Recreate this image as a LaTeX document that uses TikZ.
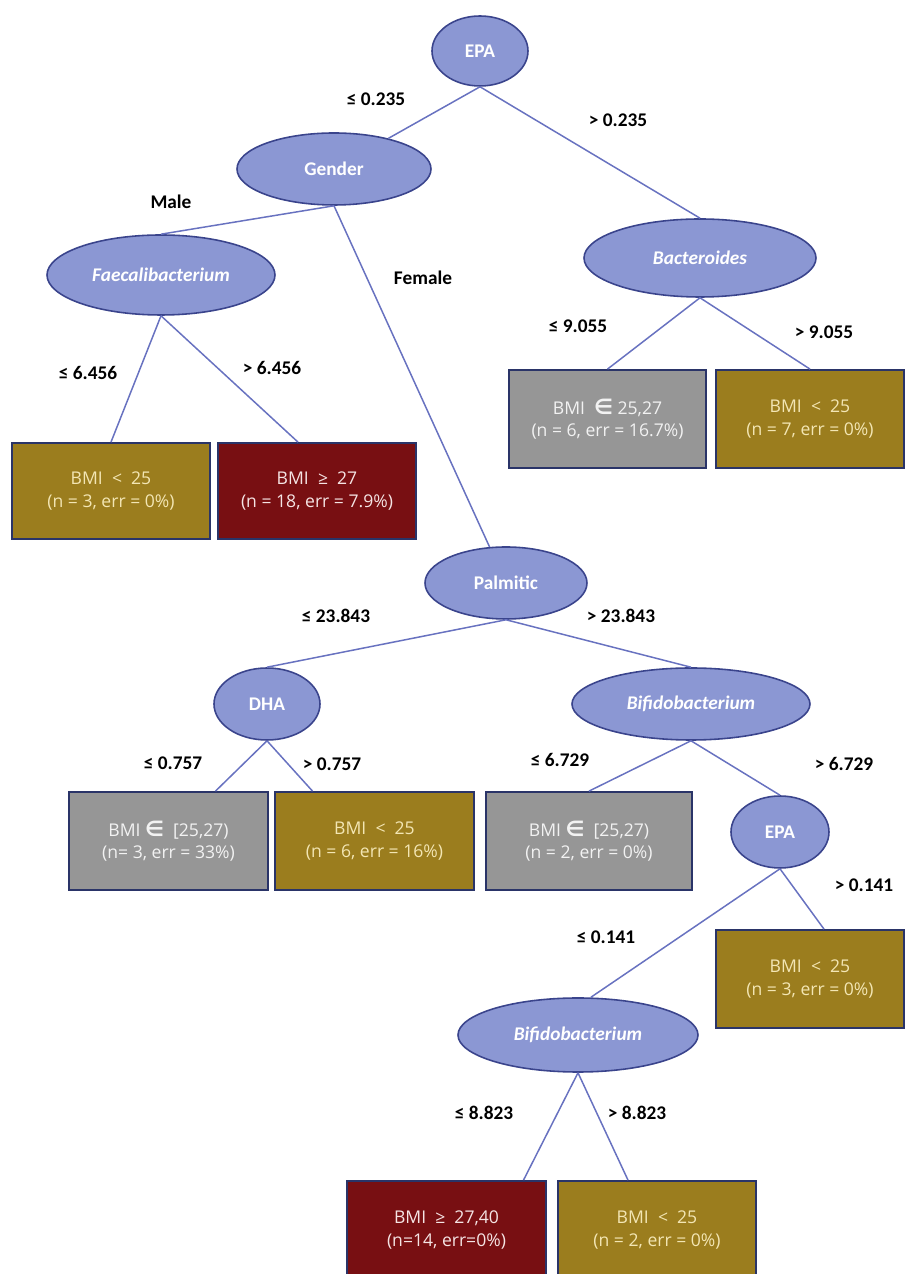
\documentclass[tikz,border=0pt]{standalone}
\usepackage{fontspec}
\setmainfont{Carlito}
\newfontfamily\boxfont{Open Sans}
\newfontfamily\symfont{DejaVu Sans}
\usepackage{tikz}
\usetikzlibrary{shapes.geometric}
\usepackage{xcolor}
\definecolor{ellfill}{RGB}{139,151,211}
\definecolor{elldraw}{RGB}{58,68,140}
\definecolor{edgeblue}{RGB}{104,114,192}
\definecolor{boxdraw}{RGB}{42,52,104}
\definecolor{olive}{RGB}{155,125,30}
\definecolor{darkred}{RGB}{120,15,18}
\definecolor{boxgrey}{RGB}{150,150,150}
\newcommand{\elem}{{\symfont\bfseries\large ∈}}

\begin{document}
\begin{tikzpicture}[
  split/.style={ellipse,draw=elldraw,fill=ellfill,line width=0.9pt,inner sep=0pt,
    text=white,font=\fontsize{11}{13}\selectfont\bfseries},
  leaf/.style={rectangle,draw=boxdraw,line width=1pt,inner sep=0pt,align=center,
    font=\boxfont\fontsize{10}{12.8}\selectfont},
  ok/.style={leaf,fill=olive,text={rgb,255:red,243;green,230;blue,180}},
  high/.style={leaf,fill=darkred,text={rgb,255:red,245;green,228;blue,228}},
  mid/.style={leaf,fill=boxgrey,text={rgb,255:red,242;green,242;blue,242}},
  br/.style={draw=edgeblue,line width=0.85pt},
  cond/.style={font=\fontsize{11}{13}\selectfont\bfseries}
]
\useasboundingbox (0,0) rectangle (18.12,25.48);

\node[split,minimum width=1.92cm,minimum height=1.40cm] (epa)    at (9.60,24.46) {EPA};
\node[split,minimum width=3.88cm,minimum height=1.44cm] (gender) at (6.68,22.10) {Gender};
\node[split,minimum width=4.56cm,minimum height=1.60cm] (faec)   at (3.22,19.98) {\itshape Faecalibacterium};
\node[split,minimum width=4.64cm,minimum height=1.56cm] (bact)   at (14.00,20.32) {\itshape Bacteroides};
\node[split,minimum width=3.24cm,minimum height=1.44cm] (palm)   at (10.12,13.82) {Palmitic};
\node[split,minimum width=2.12cm,minimum height=1.44cm] (dha)    at (5.34,11.40) {DHA};
\node[split,minimum width=4.76cm,minimum height=1.44cm] (bifa)   at (13.82,11.40) {\itshape Bifidobacterium};
\node[split,minimum width=1.96cm,minimum height=1.44cm] (epab)   at (15.60,8.84) {EPA};
\node[split,minimum width=4.80cm,minimum height=1.48cm] (bifb)   at (11.56,4.78) {\itshape Bifidobacterium};

\node[ok,minimum width=3.96cm,minimum height=1.92cm]   (lfa) at (2.22,15.66) {BMI~~<~~25\\(n = 3, err = 0\%)};
\node[high,minimum width=3.96cm,minimum height=1.92cm] (lfb) at (6.34,15.66) {BMI~~≥~~27\\(n = 18, err = 7.9\%)};
\node[mid,minimum width=3.94cm,minimum height=1.96cm]  (lfc) at (12.15,17.10) {BMI~~\elem{} 25,27\\(n = 6, err = 16.7\%)};
\node[ok,minimum width=3.76cm,minimum height=1.96cm]   (lfd) at (16.20,17.10) {BMI~~<~~25\\(n = 7, err = 0\%)};
\node[mid,minimum width=3.98cm,minimum height=1.96cm]  (lfe) at (3.37,8.66) {BMI \elem~~[25,27)\\(n= 3, err = 33\%)};
\node[ok,minimum width=3.98cm,minimum height=1.96cm]   (lff) at (7.49,8.66) {BMI~~<~~25\\(n = 6, err = 16\%)};
\node[mid,minimum width=4.12cm,minimum height=1.96cm]  (lfg) at (11.78,8.66) {BMI \elem~~[25,27)\\(n = 2, err = 0\%)};
\node[ok,minimum width=3.76cm,minimum height=1.96cm]   (lfh) at (16.20,5.90) {BMI~~<~~25\\(n = 3, err = 0\%)};
\node[high,minimum width=3.98cm,minimum height=1.96cm] (lfi) at (8.93,0.88) {BMI~~≥~~27,40\\(n=14, err=0\%)};
\node[ok,minimum width=3.96cm,minimum height=1.96cm]   (lfj) at (13.14,0.88) {BMI~~<~~25\\(n = 2, err = 0\%)};

\draw[br] (epa.south) -- (gender);
\draw[br] (epa.south) -- (bact.north);
\draw[br] (gender.south) -- (faec.north);
\draw[br] (gender.south) -- (palm);
\draw[br] (faec.south) -- (lfa.north);
\draw[br] (faec.south) -- ([xshift=-0.38cm]lfb.north);
\draw[br] (bact.south) -- (lfc.north);
\draw[br] (bact.south) -- (lfd.north);
\draw[br] (palm.south) -- (dha.north);
\draw[br] (palm.south) -- (bifa.north);
\draw[br] (dha.south) -- ([xshift=0.94cm]lfe.north);
\draw[br] (dha.south) -- ([xshift=-1.24cm]lff.north);
\draw[br] (bifa.south) -- (lfg.north);
\draw[br] (bifa.south) -- (epab.north);
\draw[br] (epab.south) -- ([xshift=0.26cm]bifb.north);
\draw[br] (epab.south) -- ([xshift=0.28cm]lfh.north);
\draw[br] (bifb.south) -- ([xshift=1.54cm]lfi.north);
\draw[br] (bifb.south) -- ([xshift=-0.58cm]lfj.north);

\node[cond] (c1a) at (7.52,23.50) {≤ 0.235};
\node[cond] (c1b) at (12.36,23.08) {> 0.235};
\node[cond] (c2a) at (3.42,21.44) {Male};
\node[cond] (c2b) at (8.46,19.92) {Female};
\node[cond] (c3a) at (1.76,18.02) {≤ 6.456};
\node[cond] (c3b) at (5.44,18.12) {> 6.456};
\node[cond] (c4a) at (11.56,18.96) {≤ 9.055};
\node[cond] (c4b) at (16.48,18.84) {> 9.055};
\node[cond] (c5a) at (6.72,13.16) {≤ 23.843};
\node[cond] (c5b) at (12.42,13.16) {> 23.843};
\node[cond] (c6a) at (3.46,10.22) {≤ 0.757};
\node[cond] (c6b) at (6.64,10.20) {> 0.757};
\node[cond] (c7a) at (11.20,10.28) {≤ 6.729};
\node[cond] (c7b) at (16.88,10.20) {> 6.729};
\node[cond] (c8a) at (12.12,6.74) {≤ 0.141};
\node[cond] (c8b) at (17.28,7.78) {> 0.141};
\node[cond] (c9a) at (9.68,3.22) {≤ 8.823};
\node[cond] (c9b) at (12.74,3.22) {> 8.823};
\end{tikzpicture}
\end{document}
